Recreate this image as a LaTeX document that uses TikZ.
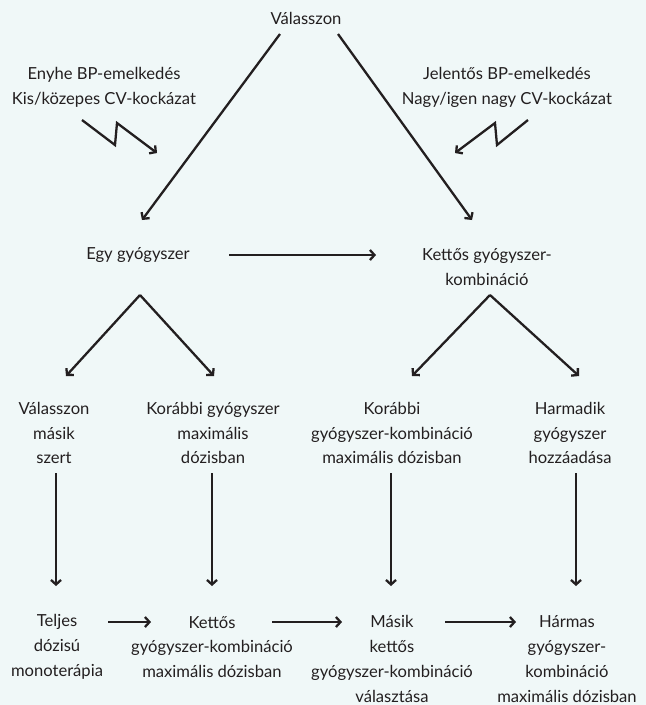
\documentclass[tikz,border=0pt]{standalone}
\usepackage{fontspec}
\setmainfont{Lato}
\usetikzlibrary{arrows.meta}
\definecolor{bgc}{RGB}{240,248,248}
\definecolor{ink}{RGB}{35,31,32}
\begin{document}
\begin{tikzpicture}[x=1pt,y=-1pt,
  txt/.style={align=center,inner sep=0pt,text=ink,font=\fontsize{16.6}{24.8}\selectfont},
  arr/.style={draw=ink,line width=2.3pt,-{Straight Barb[length=4.5pt,width=10pt,line width=2.3pt]}}]
\fill[bgc] (0,0) rectangle (646,705);
\useasboundingbox (0,0) rectangle (646,705);
% texts
\node[txt] (top) at (306,18) {Válasszon};
\node[txt] (ll) at (104,87) {Enyhe BP-emelkedés\\Kis/közepes CV-kockázat};
\node[txt] (rl) at (507,87) {Jelentős BP-emelkedés\\Nagy/igen nagy CV-kockázat};
\node[txt] (egy) at (138,255) {Egy gyógyszer};
\node[txt] (ket) at (487,267) {Kettős gyógyszer-\\kombináció};
\node[txt] (r3a) at (54,433) {Válasszon\\másik\\szert};
\node[txt] (r3b) at (213,433) {Korábbi gyógyszer\\maximális\\dózisban};
\node[txt] (r3c) at (392,433) {Korábbi\\gyógyszer-kombináció\\maximális dózisban};
\node[txt] (r3d) at (570,433) {Harmadik\\gyógyszer\\hozzáadása};
\node[txt] (b1) at (57,647) {Teljes\\dózisú\\monoterápia};
\node[txt] (b2) at (212,647) {Kettős\\gyógyszer-kombináció\\maximális dózisban};
\node[txt] (b3) at (392,659) {Másik\\kettős\\gyógyszer-kombináció\\választása};
\node[txt] (b4) at (567,659) {Hármas\\gyógyszer-\\kombináció\\maximális dózisban};
% coordinates
\coordinate (t1) at (280,34); \coordinate (t1e) at (142,220);
\coordinate (t2) at (338,34); \coordinate (t2e) at (472,220);
\coordinate (z1) at (82,120); \coordinate (z2) at (115,145); \coordinate (z3) at (117,123); \coordinate (z4) at (157,153);
\coordinate (y1) at (528,120); \coordinate (y2) at (497,145); \coordinate (y3) at (495,123); \coordinate (y4) at (455,153);
\coordinate (h1) at (229,255); \coordinate (h1e) at (376,255);
\coordinate (ap1) at (140,295); \coordinate (ap1a) at (66,376); \coordinate (ap1b) at (214,376);
\coordinate (ap2) at (490,295); \coordinate (ap2a) at (412,376); \coordinate (ap2b) at (579,376);
\foreach \n/\x in {a/56,b/212,c/391,d/576}{
  \coordinate (v\n) at (\x,473); \coordinate (v\n e) at (\x,586);}
\coordinate (bh1) at (108,622); \coordinate (bh1e) at (151,622);
\coordinate (bh2) at (272,622); \coordinate (bh2e) at (342,622);
\coordinate (bh3) at (445,622); \coordinate (bh3e) at (516,622);
% connectors
\draw[arr] (t1) -- (t1e);
\draw[arr] (t2) -- (t2e);
\draw[arr,line join=miter] (z1) -- (z2) -- (z3) -- (z4);
\draw[arr,line join=miter] (y1) -- (y2) -- (y3) -- (y4);
\draw[arr] (h1) -- (h1e);
\draw[arr] (ap1) -- (ap1a);
\draw[arr] (ap1) -- (ap1b);
\draw[arr] (ap2) -- (ap2a);
\draw[arr] (ap2) -- (ap2b);
\foreach \n in {a,b,c,d}{\draw[arr] (v\n) -- (v\n e);}
\draw[arr] (bh1) -- (bh1e);
\draw[arr] (bh2) -- (bh2e);
\draw[arr] (bh3) -- (bh3e);
\end{tikzpicture}
\end{document}
